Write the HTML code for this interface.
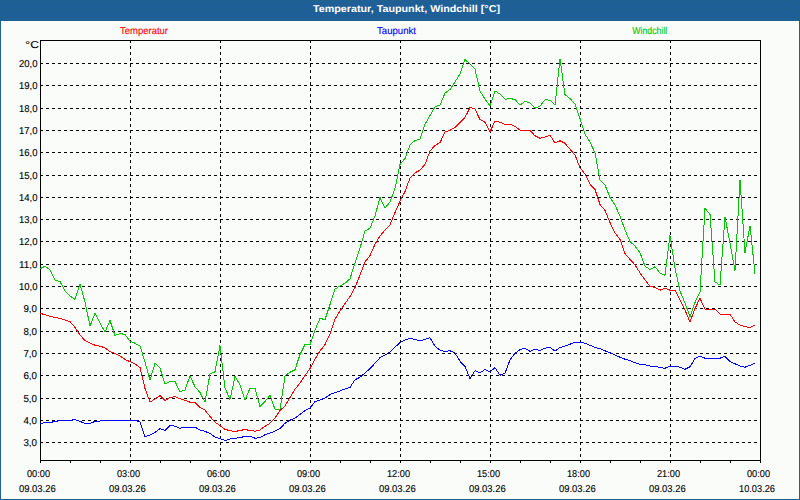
<!DOCTYPE html>
<html><head><meta charset="utf-8"><style>
html,body{margin:0;padding:0;width:800px;height:500px;overflow:hidden;background:#1E6093}
svg{display:block}
text{font-family:"Liberation Sans",sans-serif;text-rendering:geometricPrecision}
</style></head><body>
<svg width="800" height="500" viewBox="0 0 800 500">
<defs><pattern id="dith" x="0" y="0" width="8" height="8" patternUnits="userSpaceOnUse"><rect width="8" height="8" fill="#1E6093"/><rect x="1" y="0" width="1" height="1" fill="#2260AC"/><rect x="5" y="1" width="1" height="1" fill="#2260AC"/><rect x="3" y="2" width="1" height="1" fill="#2260AC"/><rect x="7" y="3" width="1" height="1" fill="#2260AC"/><rect x="0" y="4" width="1" height="1" fill="#2260AC"/><rect x="4" y="5" width="1" height="1" fill="#2260AC"/><rect x="2" y="6" width="1" height="1" fill="#2260AC"/><rect x="6" y="7" width="1" height="1" fill="#2260AC"/></pattern></defs>
<rect x="0" y="0" width="800" height="500" fill="#1E6093"/>
<rect x="1" y="0" width="798" height="20" fill="url(#dith)" shape-rendering="crispEdges"/>
<rect x="1" y="21" width="798" height="478" fill="#FAFCFA"/>
<path d="M40 63.5H760 M40 85.5H760 M40 108.5H760 M40 130.5H760 M40 152.5H760 M40 175.5H760 M40 197.5H760 M40 219.5H760 M40 241.5H760 M40 264.5H760 M40 286.5H760 M40 308.5H760 M40 331.5H760 M40 353.5H760 M40 375.5H760 M40 398.5H760 M40 420.5H760 M40 442.5H760" stroke="#000" stroke-width="1" stroke-dasharray="3 3" fill="none"/>
<path d="M130.5 40V460 M220.5 40V460 M310.5 40V460 M400.5 40V460 M490.5 40V460 M580.5 40V460 M670.5 40V460" stroke="#000" stroke-width="1" stroke-dasharray="3 3" fill="none"/>
<path d="M40.5 460V463 M70.5 460V463 M100.5 460V463 M130.5 460V463 M160.5 460V463 M190.5 460V463 M220.5 460V463 M250.5 460V463 M280.5 460V463 M310.5 460V463 M340.5 460V463 M370.5 460V463 M400.5 460V463 M430.5 460V463 M460.5 460V463 M490.5 460V463 M520.5 460V463 M550.5 460V463 M580.5 460V463 M610.5 460V463 M640.5 460V463 M670.5 460V463 M700.5 460V463 M730.5 460V463 M760.5 460V463" stroke="#000" stroke-width="1" fill="none"/>
<rect x="40.5" y="40.5" width="720" height="420" fill="none" stroke="#000" stroke-width="1"/>
<polyline points="40,423.7 45,422.5 50,422.5 55,421.5 60,420.5 65,420.5 70,420.5 75,419.5 80,421.5 85,423.25 90,423.25 95,421.5 100,421.0 105,420.5 110,420.5 115,420.5 120,420.5 125,420.5 130,420.5 135,420.5 140,421.8 145,436.5 150,435 155,432.5 160,428.5 165,430.5 170,425.3 175,426.2 180,428.3 185,427.2 190,427.2 195,427.2 200,429.9 205,431.4 210,433.3 215,437.0 220,438.7 225,440.5 230,439.0 235,438.25 240,437.5 245,436.5 250,436.0 255,438.25 260,437.5 265,434.8 270,433.0 275,431.2 280,428.5 285,423.25 290,420.25 295,418.0 300,414.4 305,410.5 310,408.0 315,401.5 320,400.0 325,398.0 330,394.6 335,392.5 340,391.0 345,388.9 350,387.4 355,379.75 360,377.2 365,373.0 370,368.5 375,363.25 380,357.7 385,355.0 390,352.0 395,347.2 400,342.7 405,340.0 410,338.5 415,339.25 420,341.1 425,339.4 430,337.7 435,346.25 440,350.0 445,351.5 450,350.75 455,353.0 460,361.25 465,366.5 470,378.5 475,370.7 480,372.8 485,369.5 490,371.75 495,367.7 500,375.2 505,373.25 510,359.75 515,353.3 520,349.7 525,348.2 530,351.4 535,349.3 540,350.5 545,348.25 550,347.2 555,351.25 560,347.5 565,346.0 570,344.2 575,342.25 580,342.25 585,343.3 590,345.25 595,347.5 600,348.7 605,350.8 610,352.75 615,355.0 620,357.25 625,359.2 630,360.5 635,362.8 640,364.3 645,364.75 650,366.0 655,366.3 660,367.5 665,368.25 670,366.0 675,366.0 680,367.2 685,369.3 690,366.75 695,358.5 700,356.25 705,358.2 710,358.2 715,358.2 720,358.2 725,356.25 730,361.5 735,363.75 740,366.0 745,367.2 750,365.25 755,363.3" fill="none" stroke="#0000FF" stroke-width="1" stroke-linejoin="miter" shape-rendering="crispEdges"/>
<polyline points="40,313.25 45,314.8 50,316.25 55,317.4 60,318.5 65,320.0 70,321.5 75,327.5 80,335.0 85,340.5 90,343.0 95,345.2 100,346.25 105,347.75 110,351.8 115,353.3 120,356.0 125,359.45 130,361.7 135,363.8 140,367.5 145,388.5 150,402 155,399.0 160,395.6 165,400.4 170,397.6 175,396.5 180,398.8 185,400.4 190,402.2 195,402.4 200,407.5 205,410.2 210,416.5 215,422.2 220,425.5 225,429.25 230,430.75 235,431.5 240,430.5 245,429.5 250,430.5 255,431.2 260,430.0 265,426.25 270,423.25 275,418.0 280,410.5 285,406.0 290,397.6 295,389.2 300,383.0 305,375.5 310,368.5 315,359.0 320,351.0 325,344.5 330,334.0 335,319.0 340,311.0 345,303.5 350,296.5 355,287.5 360,275 365,262 370,255.5 375,244.25 380,236.0 385,230.0 390,224.75 395,212.5 400,201.25 405,191.5 410,178.0 415,172.75 420,170.25 425,164.3 430,151.0 435,145.5 440,142.6 445,132.0 450,130.25 455,127.5 460,122.6 465,117.4 470,107.5 475,109 480,119.6 485,122.25 490,131.7 495,121.1 500,122.25 505,124.25 510,124.25 515,126.4 520,130.2 525,130.25 530,130.25 535,135.8 540,138.2 545,137.0 550,135.2 555,143.0 560,140.75 565,143.3 570,149.3 575,155.0 580,167.75 585,174.0 590,184.25 595,189.5 600,204.5 605,210.5 610,222.5 615,233.0 620,239.5 625,253.5 630,259.5 635,264.75 640,273.0 645,279.75 650,286.5 655,287.25 660,290.2 665,288.1 670,290.2 675,290.2 680,300 685,310.0 690,322.0 695,308.5 700,298.3 705,309.25 710,310.0 715,309.25 720,314.2 725,314.2 730,314.2 735,322.0 740,325.0 745,326.5 750,327.7 755,325.0" fill="none" stroke="#FF0000" stroke-width="1" stroke-linejoin="miter" shape-rendering="crispEdges"/>
<polyline points="40,268.7 45,266.3 50,269.75 55,280.0 60,281.5 65,290.75 70,296.0 75,299.3 80,284.3 85,302.0 90,326.0 95,313.25 100,323.0 105,332.0 110,320.5 115,335.5 120,333.5 125,334.5 130,341.0 135,343.25 140,346.0 145,362.0 150,380 155,363.3 160,368.3 165,383.75 170,381.5 175,381.5 180,391.7 185,390.2 190,375.8 195,386.75 200,392.6 205,402 210,374.0 215,371.8 220,345.5 225,388 230,399.4 235,376.5 240,384.8 245,400.1 250,388.3 255,388.3 260,406.75 265,401.5 270,395.5 275,409.3 280,409.3 285,376.0 290,372.25 295,369.7 300,354.5 305,344.5 310,344.5 315,330.0 320,318.5 325,319.5 330,304.5 335,289.0 340,286.0 345,283.25 350,278.75 355,263.0 360,248.0 365,231.0 370,228.2 375,216 380,197.5 385,208.0 390,202.0 395,188.5 400,164.5 405,158.5 410,145.0 415,140.5 420,139.0 425,124.3 430,115.5 435,106.75 440,105.0 445,93.25 450,89.5 455,82.0 460,73.75 465,59.5 470,64.0 475,69.25 480,91.0 485,99.25 490,106.0 495,91.0 500,94.0 505,99.25 510,98.5 515,99.5 520,105.25 525,101.5 530,102.7 535,108.25 540,106.0 545,99.7 550,100.3 555,105.25 560,59.2 565,94.75 570,98.5 575,104.0 580,118.5 585,134.0 590,142.25 595,152.75 600,180.0 605,185.0 610,197.5 615,205.0 620,216.0 625,230.0 630,241.5 635,246.0 640,252.75 645,266.25 650,269.5 655,266.7 660,273.0 665,275.25 670,235.5 675,268 680,291 685,303 690,316.75 695,302.5 700,292 705,208.4 710,214.4 715,282.0 720,285.0 725,217.0 730,243.0 735,270.5 740,180.0 745,253.0 750,225.6 755,273.5" fill="none" stroke="#00C800" stroke-width="1" stroke-linejoin="miter" shape-rendering="crispEdges"/>
<text x="313.0" y="12" text-anchor="start" fill="#FFF" font-size="10" font-weight="bold" textLength="187.0" lengthAdjust="spacingAndGlyphs">Temperatur, Taupunkt, Windchill [°C]</text>
<text x="120.0" y="34" text-anchor="start" fill="#FF0000" font-size="10" font-weight="normal" textLength="48.0" lengthAdjust="spacingAndGlyphs" stroke="#FF0000" stroke-width="0.12">Temperatur</text>
<text x="377.0" y="34" text-anchor="start" fill="#0000FF" font-size="10" font-weight="normal" textLength="39.0" lengthAdjust="spacingAndGlyphs" stroke="#0000FF" stroke-width="0.12">Taupunkt</text>
<text x="632.3" y="34" text-anchor="start" fill="#00C800" font-size="10" font-weight="normal" textLength="35.0" lengthAdjust="spacingAndGlyphs" stroke="#00C800" stroke-width="0.12">Windchill</text>
<text x="25.3" y="48" text-anchor="start" fill="#000" font-size="10" font-weight="normal" textLength="13.6" lengthAdjust="spacingAndGlyphs" stroke="#000" stroke-width="0.12">°C</text>
<text x="19.0" y="67" text-anchor="start" fill="#000" font-size="10" font-weight="normal" textLength="18.5" lengthAdjust="spacingAndGlyphs" stroke="#000" stroke-width="0.12">20,0</text>
<text x="19.0" y="89" text-anchor="start" fill="#000" font-size="10" font-weight="normal" textLength="18.5" lengthAdjust="spacingAndGlyphs" stroke="#000" stroke-width="0.12">19,0</text>
<text x="19.0" y="112" text-anchor="start" fill="#000" font-size="10" font-weight="normal" textLength="18.5" lengthAdjust="spacingAndGlyphs" stroke="#000" stroke-width="0.12">18,0</text>
<text x="19.0" y="134" text-anchor="start" fill="#000" font-size="10" font-weight="normal" textLength="18.5" lengthAdjust="spacingAndGlyphs" stroke="#000" stroke-width="0.12">17,0</text>
<text x="19.0" y="156" text-anchor="start" fill="#000" font-size="10" font-weight="normal" textLength="18.5" lengthAdjust="spacingAndGlyphs" stroke="#000" stroke-width="0.12">16,0</text>
<text x="19.0" y="179" text-anchor="start" fill="#000" font-size="10" font-weight="normal" textLength="18.5" lengthAdjust="spacingAndGlyphs" stroke="#000" stroke-width="0.12">15,0</text>
<text x="19.0" y="201" text-anchor="start" fill="#000" font-size="10" font-weight="normal" textLength="18.5" lengthAdjust="spacingAndGlyphs" stroke="#000" stroke-width="0.12">14,0</text>
<text x="19.0" y="223" text-anchor="start" fill="#000" font-size="10" font-weight="normal" textLength="18.5" lengthAdjust="spacingAndGlyphs" stroke="#000" stroke-width="0.12">13,0</text>
<text x="19.0" y="245" text-anchor="start" fill="#000" font-size="10" font-weight="normal" textLength="18.5" lengthAdjust="spacingAndGlyphs" stroke="#000" stroke-width="0.12">12,0</text>
<text x="19.0" y="268" text-anchor="start" fill="#000" font-size="10" font-weight="normal" textLength="18.5" lengthAdjust="spacingAndGlyphs" stroke="#000" stroke-width="0.12">11,0</text>
<text x="19.0" y="290" text-anchor="start" fill="#000" font-size="10" font-weight="normal" textLength="18.5" lengthAdjust="spacingAndGlyphs" stroke="#000" stroke-width="0.12">10,0</text>
<text x="23.4" y="312" text-anchor="start" fill="#000" font-size="10" font-weight="normal" textLength="13.6" lengthAdjust="spacingAndGlyphs" stroke="#000" stroke-width="0.12">9,0</text>
<text x="23.4" y="335" text-anchor="start" fill="#000" font-size="10" font-weight="normal" textLength="13.6" lengthAdjust="spacingAndGlyphs" stroke="#000" stroke-width="0.12">8,0</text>
<text x="23.4" y="357" text-anchor="start" fill="#000" font-size="10" font-weight="normal" textLength="13.6" lengthAdjust="spacingAndGlyphs" stroke="#000" stroke-width="0.12">7,0</text>
<text x="23.4" y="379" text-anchor="start" fill="#000" font-size="10" font-weight="normal" textLength="13.6" lengthAdjust="spacingAndGlyphs" stroke="#000" stroke-width="0.12">6,0</text>
<text x="23.4" y="402" text-anchor="start" fill="#000" font-size="10" font-weight="normal" textLength="13.6" lengthAdjust="spacingAndGlyphs" stroke="#000" stroke-width="0.12">5,0</text>
<text x="23.4" y="424" text-anchor="start" fill="#000" font-size="10" font-weight="normal" textLength="13.6" lengthAdjust="spacingAndGlyphs" stroke="#000" stroke-width="0.12">4,0</text>
<text x="23.4" y="446" text-anchor="start" fill="#000" font-size="10" font-weight="normal" textLength="13.6" lengthAdjust="spacingAndGlyphs" stroke="#000" stroke-width="0.12">3,0</text>
<text x="27.0" y="477" text-anchor="start" fill="#000" font-size="10" font-weight="normal" textLength="23.0" lengthAdjust="spacingAndGlyphs" stroke="#000" stroke-width="0.12">00:00</text>
<text x="19.0" y="492" text-anchor="start" fill="#000" font-size="10" font-weight="normal" textLength="36.75" lengthAdjust="spacingAndGlyphs" stroke="#000" stroke-width="0.12">09.03.26</text>
<text x="117.0" y="477" text-anchor="start" fill="#000" font-size="10" font-weight="normal" textLength="23.0" lengthAdjust="spacingAndGlyphs" stroke="#000" stroke-width="0.12">03:00</text>
<text x="109.0" y="492" text-anchor="start" fill="#000" font-size="10" font-weight="normal" textLength="36.75" lengthAdjust="spacingAndGlyphs" stroke="#000" stroke-width="0.12">09.03.26</text>
<text x="207.0" y="477" text-anchor="start" fill="#000" font-size="10" font-weight="normal" textLength="23.0" lengthAdjust="spacingAndGlyphs" stroke="#000" stroke-width="0.12">06:00</text>
<text x="199.0" y="492" text-anchor="start" fill="#000" font-size="10" font-weight="normal" textLength="36.75" lengthAdjust="spacingAndGlyphs" stroke="#000" stroke-width="0.12">09.03.26</text>
<text x="297.0" y="477" text-anchor="start" fill="#000" font-size="10" font-weight="normal" textLength="23.0" lengthAdjust="spacingAndGlyphs" stroke="#000" stroke-width="0.12">09:00</text>
<text x="289.0" y="492" text-anchor="start" fill="#000" font-size="10" font-weight="normal" textLength="36.75" lengthAdjust="spacingAndGlyphs" stroke="#000" stroke-width="0.12">09.03.26</text>
<text x="387.0" y="477" text-anchor="start" fill="#000" font-size="10" font-weight="normal" textLength="23.0" lengthAdjust="spacingAndGlyphs" stroke="#000" stroke-width="0.12">12:00</text>
<text x="379.0" y="492" text-anchor="start" fill="#000" font-size="10" font-weight="normal" textLength="36.75" lengthAdjust="spacingAndGlyphs" stroke="#000" stroke-width="0.12">09.03.26</text>
<text x="477.0" y="477" text-anchor="start" fill="#000" font-size="10" font-weight="normal" textLength="23.0" lengthAdjust="spacingAndGlyphs" stroke="#000" stroke-width="0.12">15:00</text>
<text x="469.0" y="492" text-anchor="start" fill="#000" font-size="10" font-weight="normal" textLength="36.75" lengthAdjust="spacingAndGlyphs" stroke="#000" stroke-width="0.12">09.03.26</text>
<text x="567.0" y="477" text-anchor="start" fill="#000" font-size="10" font-weight="normal" textLength="23.0" lengthAdjust="spacingAndGlyphs" stroke="#000" stroke-width="0.12">18:00</text>
<text x="559.0" y="492" text-anchor="start" fill="#000" font-size="10" font-weight="normal" textLength="36.75" lengthAdjust="spacingAndGlyphs" stroke="#000" stroke-width="0.12">09.03.26</text>
<text x="657.0" y="477" text-anchor="start" fill="#000" font-size="10" font-weight="normal" textLength="23.0" lengthAdjust="spacingAndGlyphs" stroke="#000" stroke-width="0.12">21:00</text>
<text x="649.0" y="492" text-anchor="start" fill="#000" font-size="10" font-weight="normal" textLength="36.75" lengthAdjust="spacingAndGlyphs" stroke="#000" stroke-width="0.12">09.03.26</text>
<text x="747.0" y="477" text-anchor="start" fill="#000" font-size="10" font-weight="normal" textLength="23.0" lengthAdjust="spacingAndGlyphs" stroke="#000" stroke-width="0.12">00:00</text>
<text x="739.0" y="492" text-anchor="start" fill="#000" font-size="10" font-weight="normal" textLength="36" lengthAdjust="spacingAndGlyphs" stroke="#000" stroke-width="0.12">10.03.26</text>
</svg>
</body></html>
